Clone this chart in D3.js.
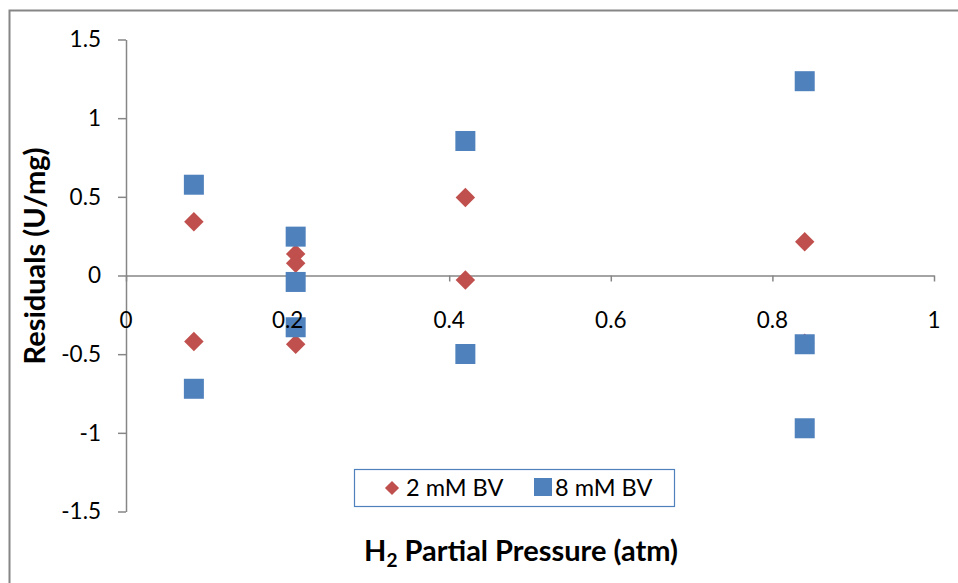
<!DOCTYPE html>
<html>
<head>
<meta charset="utf-8">
<script src="https://cdn.jsdelivr.net/npm/d3@7"></script>
<style>
  html, body { margin: 0; padding: 0; background: #fff; }
  svg { display: block; font-family: Lato, "Open Sans", sans-serif; }
</style>
</head>
<body>
<svg id="chart" width="958" height="583"></svg>
<script>
// Residuals vs H2 partial pressure, two benzyl viologen concentrations
const bv2Pressure = [0.084, 0.084, 0.21, 0.21, 0.21, 0.42, 0.42, 0.84, 0.84];
const bv2Residual = [0.342, -0.42, 0.137, 0.078, -0.437, 0.495, -0.029, 0.215, -0.43];

const bv8Pressure = [0.084, 0.084, 0.21, 0.21, 0.21, 0.42, 0.42, 0.84, 0.84, 0.84];
const bv8Residual = [0.577, -0.72, 0.247, -0.041, -0.329, 0.855, -0.499, 1.235, -0.437, -0.971];

const xTicks = [0, 0.2, 0.4, 0.6, 0.8, 1];
const yTicks = [-1.5, -1, -0.5, 0, 0.5, 1, 1.5];
const seriesNames = ["2 mM BV", "8 mM BV"];

const RED = "#C0504D", BLUE = "#4F81BD", AXIS = "#868686";
const FONT = "Lato, 'Open Sans', sans-serif";
const fmt = d => String(d); // plain hyphen for negatives

const svg = d3.select("#chart");

// outer chart frame
svg.append("rect")
  .attr("x", 9.5).attr("y", 10.5)
  .attr("width", 980).attr("height", 600)
  .attr("fill", "#fff").attr("stroke", AXIS).attr("stroke-width", 2);

const x = d3.scaleLinear().domain([0, 1]).range([126, 934]);
const y = d3.scaleLinear().domain([-1.5, 1.5]).range([511.5, 39.5]);

// y axis (left, outward ticks)
const yAxis = svg.append("g")
  .attr("transform", `translate(${x(0)},0)`)
  .call(d3.axisLeft(y).tickValues(yTicks).tickSize(8).tickSizeOuter(0)
        .tickFormat(fmt).tickPadding(17));
yAxis.select(".domain").attr("stroke", AXIS).attr("stroke-width", 1.5);
yAxis.selectAll(".tick line").attr("stroke", AXIS).attr("stroke-width", 1.5);
yAxis.selectAll(".tick text").attr("font-size", 22.5).attr("fill", "#000")
  .attr("font-family", FONT);

// x axis line and ticks through y = 0 (labels go on a layer above the markers)
const xAxis = svg.append("g")
  .attr("transform", `translate(0,${y(0)})`)
  .call(d3.axisBottom(x).tickValues(xTicks).tickSize(6).tickSizeOuter(0)
        .tickFormat(""));
xAxis.select(".domain").attr("stroke", AXIS).attr("stroke-width", 1.5);
xAxis.selectAll(".tick line").attr("stroke", AXIS).attr("stroke-width", 1.5);

// markers: red diamonds first, blue squares on top
const diamond = d3.symbol().type(d3.symbolSquare).size(190);
const bv2 = bv2Pressure.map((p, i) => ({ p, r: bv2Residual[i] }));
const bv8 = bv8Pressure.map((p, i) => ({ p, r: bv8Residual[i] }));

svg.append("g").selectAll("path").data(bv2).join("path")
  .attr("d", diamond)
  .attr("transform", d => `translate(${x(d.p)},${y(d.r)}) rotate(45)`)
  .attr("fill", RED);

svg.append("g").selectAll("rect").data(bv8).join("rect")
  .attr("x", d => x(d.p) - 10).attr("y", d => y(d.r) - 10)
  .attr("width", 20).attr("height", 20)
  .attr("fill", BLUE);

// x tick labels drawn over the markers
svg.append("g").selectAll("text").data(xTicks).join("text")
  .attr("x", d => x(d)).attr("y", y(0) + 52)
  .attr("text-anchor", "middle").attr("font-size", 22.5)
  .attr("font-family", FONT).attr("fill", "#000")
  .text(fmt);

// legend
const lg = svg.append("g").attr("font-family", FONT);
lg.append("rect")
  .attr("x", 354.5).attr("y", 469.5).attr("width", 320).attr("height", 37)
  .attr("fill", "#fff").attr("stroke", BLUE).attr("stroke-width", 1.2);
lg.append("path").attr("d", d3.symbol().type(d3.symbolSquare).size(100))
  .attr("transform", "translate(392,488) rotate(45)").attr("fill", RED);
lg.append("text").attr("x", 406).attr("y", 496).attr("font-size", 23.5).text(seriesNames[0]);
lg.append("rect").attr("x", 534).attr("y", 478).attr("width", 18).attr("height", 18).attr("fill", BLUE);
lg.append("text").attr("x", 555).attr("y", 496).attr("font-size", 23.5).text(seriesNames[1]);

// axis titles
const xt = svg.append("text").attr("x", 521).attr("y", 561)
  .attr("text-anchor", "middle").attr("font-size", 29).attr("font-weight", "bold")
  .attr("font-family", FONT);
xt.append("tspan").text("H");
xt.append("tspan").attr("font-size", 19).attr("dy", 6).text("2");
xt.append("tspan").attr("dy", -6).text(" Partial Pressure (atm)");

svg.append("text")
  .attr("transform", "translate(45,256) rotate(-90)")
  .attr("text-anchor", "middle").attr("font-size", 29).attr("font-weight", "bold")
  .attr("font-family", FONT)
  .text("Residuals (U/mg)");
</script>
</body>
</html>
